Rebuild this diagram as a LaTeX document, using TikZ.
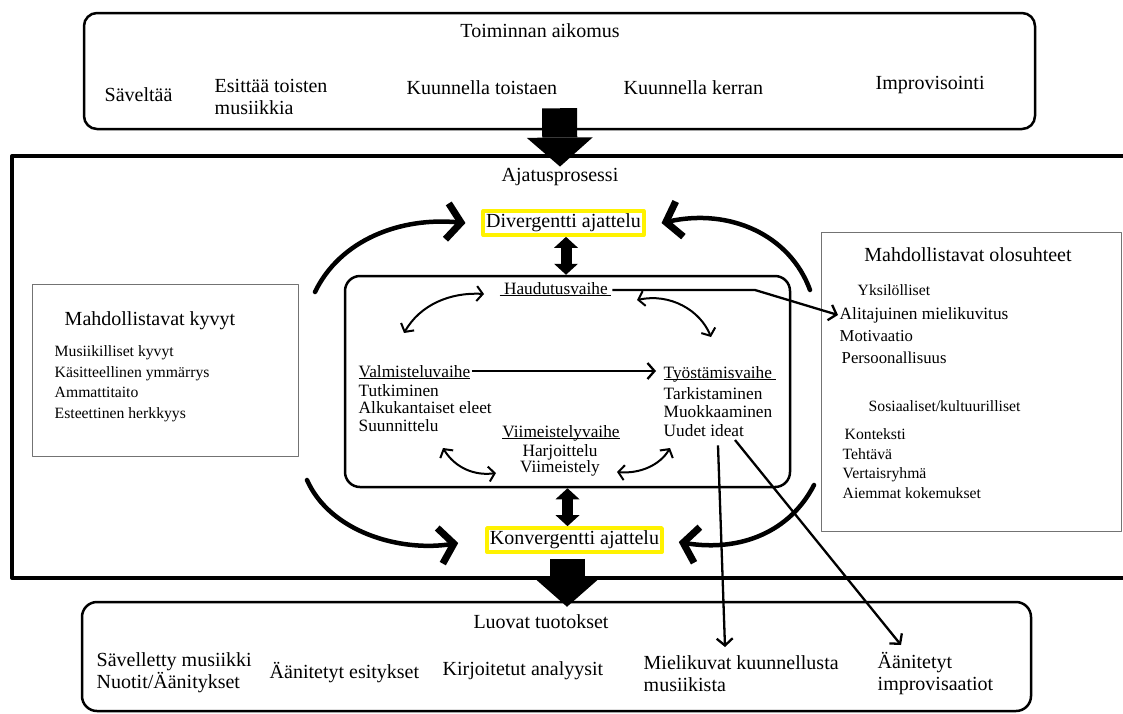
\documentclass[tikz,border=0pt]{standalone}
\usepackage{fontspec}
\setmainfont{Liberation Serif}
\usetikzlibrary{arrows.meta,calc}
\newcommand{\phase}[1]{\underline{\smash{#1}}}
\begin{document}
\begin{tikzpicture}[x=1pt, y=-1pt, line cap=butt, line join=round, every node/.style={inner sep=1.5pt},
	big/.style={font=\fontsize{20}{22}\selectfont},
	mid/.style={font=\fontsize{17.3}{17.5}\selectfont},
	small/.style={font=\fontsize{15.7}{20.5}\selectfont},
	roundbox/.style={draw, line width=2.5pt, rounded corners=13pt, inner sep=0pt},
	graybox/.style={draw=black!55, line width=1pt, inner sep=0pt},
	hilite/.style={draw=yellow, line width=3.5pt, inner sep=3pt, fill=white, big},
	thin/.style={line width=2.3pt, -{Straight Barb[length=7pt,width=16pt]}},
	twoway/.style={line width=2pt, {Straight Barb[length=6pt,width=15pt]}-{Straight Barb[length=6pt,width=15pt]}},
	sweep/.style={line width=4.5pt, line cap=round, -{Straight Barb[length=14pt,width=36pt,line width=7pt]}},
	bigblock/.style={line width=35pt, -{Triangle[length=29pt,width=66pt,line width=0pt]}},
	dblock/.style={line width=11pt, {Triangle[length=11pt,width=24pt,line width=0pt]}-{Triangle[length=11pt,width=24pt,line width=0pt]}}]
	\useasboundingbox (0,0) rectangle (1123,713);
	\node[roundbox, minimum width=951pt, minimum height=116pt] (aikomus) at (559.5,71) {};
	\node[big] (aikot) at (540,31) {Toiminnan aikomus};
	\node[big, anchor=west] (savel) at (103,95) {Säveltää};
	\node[big, anchor=west, align=left] (esitt) at (213,97) {Esittää toisten\\musiikkia};
	\node[big, anchor=west] (toist) at (405,88) {Kuunnella toistaen};
	\node[big, anchor=west] (kerran) at (622,88) {Kuunnella kerran};
	\node[big, anchor=west] (impro) at (874,85) {Improvisointi};
	\draw[line width=4pt] (1123,156) -- (12,156) -- (12,578) -- (1123,578);
	\node[big] (ajatus) at (560,177) {Ajatusprosessi};
	\coordinate (drop) at ($(aikomus.south)+(0,-22)$);
	\draw[bigblock] (drop) -- (ajatus.north);
	\node[hilite] (div) at (563.5,223) {Divergentti ajattelu};
	\node[hilite] (konv) at (574.5,540) {Konvergentti ajattelu};
	\node[draw, line width=2.5pt, rounded corners=15pt, minimum width=445pt, minimum height=211pt] (proc) at (567.5,381.5) {};
	\coordinate (divfoot) at ($(div.south)+(2.5,0)$);
	\draw[dblock] (divfoot) -- (divfoot |- proc.north);
	\draw[dblock] (proc.south) -- (proc.south |- konv.north);
	\node[mid, anchor=west] (haud) at (498,295) {\phase{\ Haudutusvaihe\,}};
	\node[mid, anchor=west] (valm) at (357,378) {\phase{Valmisteluvaihe}};
	\node[mid, anchor=west, align=left] (valmi) at (357,408) {Tutkiminen\\Alkukantaiset eleet\\Suunnittelu};
	\node[mid, anchor=west] (tyo) at (662,379) {\phase{Työstämisvaihe\ }};
	\node[mid, anchor=west, align=left, font=\fontsize{17.3}{18.5}\selectfont] (tyoi) at (662,412) {Tarkistaminen\\Muokkaaminen\\Uudet ideat};
	\node[mid] (viim) at (561,438) {\phase{Viimeistelyvaihe}};
	\node[mid, align=center, font=\fontsize{17.3}{16}\selectfont] (viimi) at (560,460) {Harjoittelu\\Viimeistely};
	\draw[thin, shorten >=6pt] ($(valm.east)+(0,-7)$) -- ($(tyo.west)+(0,-8)$);
	\draw[twoway] (404,333) .. controls (420,305) and (450,292) .. (484,294);
	\draw[twoway] (637,300) .. controls (670,293) and (700,310) .. (711,337);
	\draw[twoway] (443,448) .. controls (455,468) and (475,476) .. (496,473);
	\draw[twoway] (617,472) .. controls (640,474) and (660,465) .. (670,448);
	\node[graybox, minimum width=266pt, minimum height=172pt] (kyvyt) at (165,370) {};
	\node[big] (kyvt) at (150,321) {Mahdollistavat kyvyt};
	\node[small, anchor=west, align=left] (kyvi) at (53,383.5) {Musiikilliset kyvyt\\Käsitteellinen ymmärrys\\Ammattitaito\\Esteettinen herkkyys};
	\node[graybox, minimum width=300pt, minimum height=299pt] (olo) at (971,381.5) {};
	\node[big] (olot) at (968,255) {Mahdollistavat olosuhteet};
	\node[small, anchor=west] (yksi) at (856,290) {Yksilölliset};
	\node[mid, anchor=west] (alit) at (838,315) {Alitajuinen mielikuvitus};
	\node[mid, anchor=west, align=left, font=\fontsize{16.7}{21.5}\selectfont] (yksii) at (838,347) {Motivaatio\\\hspace{2pt}Persoonallisuus};
	\node[small, anchor=west] (sosi) at (867,406) {Sosiaaliset/kultuurilliset};
	\node[small, anchor=west, align=left, font=\fontsize{15.7}{19.7}\selectfont] (sosii) at (841,463.5) {\hspace{2pt}Konteksti\\Tehtävä\\Vertaisryhmä\\Aiemmat kokemukset};
	\coordinate (hstart) at ($(haud.east)+(0,-5)$);
	\coordinate (bend) at (hstart -| 755,0);
	\draw[thin] (hstart) -- (bend) -- (alit.west);
	\coordinate (sweepA) at (315,292);
	\coordinate (sweepB) at (810,290);
	\coordinate (sweepC) at (307,480);
	\coordinate (sweepD) at (814,485);
	\draw[sweep] (sweepA) .. controls (340,240) and (400,217) .. ($(div.west)+(-16,0)$);
	\draw[sweep] (sweepB) .. controls (790,235) and (730,208) .. ($(div.east)+(16,0)$);
	\draw[sweep] (sweepC) .. controls (330,532) and (400,552) .. ($(konv.west)+(-27,3)$);
	\draw[sweep] (sweepD) .. controls (790,532) and (740,552) .. ($(konv.east)+(15,2)$);
	\node[roundbox, rounded corners=15pt, minimum width=949pt, minimum height=109pt] (luovat) at (556.5,656.5) {};
	\node[big] (luovt) at (541,622) {Luovat tuotokset};
	\coordinate (rise) at ($(konv.south)+(-7.5,5)$);
	\draw[bigblock] (rise) -- ($(rise |- luovat.north)+(0,6)$);
	\node[big, anchor=west, align=left] (savm) at (95,673) {Sävelletty musiikki\\Nuotit/Äänitykset};
	\node[big, anchor=west] (aanes) at (268,673) {Äänitetyt esitykset};
	\node[big, anchor=west] (kirj) at (441,671) {Kirjoitetut analyysit};
	\node[big, anchor=west, align=left] (mieli) at (642,673.5) {Mielikuvat kuunnellusta\\musiikista};
	\node[big, anchor=west, align=left] (aanimp) at (876,673.5) {Äänitetyt\\improvisaatiot};
	\coordinate (ideaA) at ($(tyoi.south)+(0,7)$);
	\coordinate (ideaB) at (735,440);
	\coordinate (mieliTop) at (725,647);
	\coordinate (impTop) at (901,645);
	\draw[thin] (ideaA) -- (mieliTop);
	\draw[thin] (ideaB) -- (impTop);
\end{tikzpicture}
\end{document}
